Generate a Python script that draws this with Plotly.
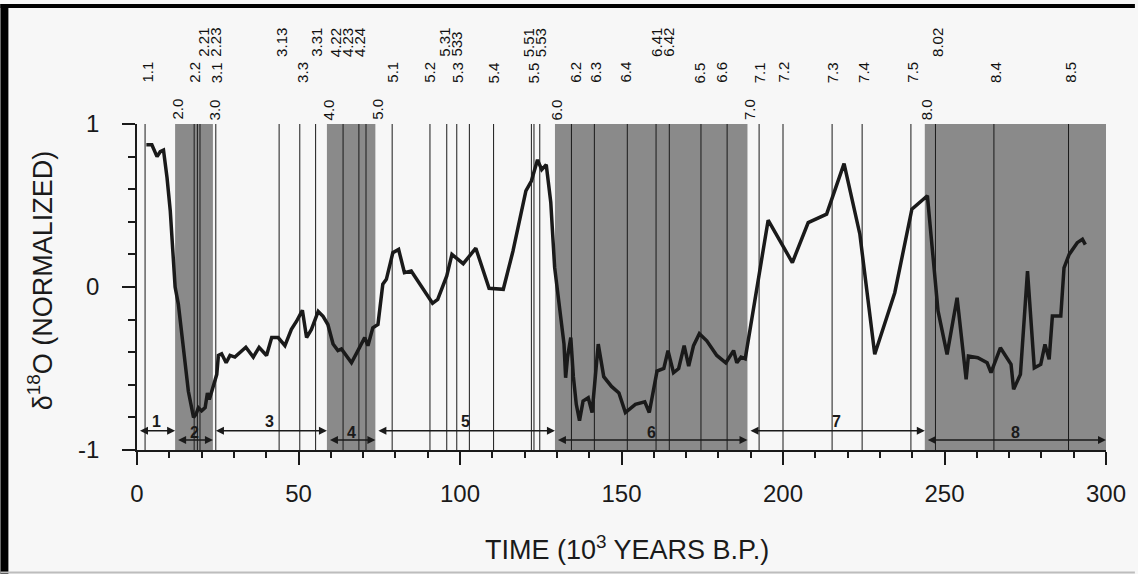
import plotly.graph_objects as go

# ---------------- data ----------------
time_ka = [2.9, 4.6, 6.2, 7.2, 8.2, 9.3, 10.3, 11.3, 11.8, 12.8, 14.4, 15.9, 17.5, 18.3, 19.0,
           20.0, 21.1, 21.8, 22.4, 23.6, 24.7, 25.2, 26.2, 27.6, 28.8, 30.3, 31.9, 33.7, 36.0,
           37.8, 40.1, 41.7, 43.7, 45.8, 47.8, 49.4, 51.2, 52.5, 54.0, 56.1, 57.6, 59.1, 60.7,
           62.2, 63.3, 64.3, 66.4, 68.4, 70.5, 71.5, 73.0, 74.6, 76.1, 77.2, 79.2, 81.0, 82.8,
           84.9, 91.5, 93.1, 95.9, 97.5, 101.0, 104.9, 109.0, 113.4, 116.4, 120.4, 122.1, 124.0,
           125.3, 126.7, 128.1, 129.3, 131.2, 132.2, 132.7, 133.3, 134.3, 135.1, 136.0, 137.0,
           138.1, 139.7, 140.9, 142.8, 144.5, 146.9, 149.2, 151.2, 154.3, 157.2, 158.6, 161.0,
           163.1, 164.4, 166.1, 167.7, 169.4, 170.8, 172.3, 174.1, 176.4, 179.5, 182.3, 184.7,
           185.7, 187.0, 188.3, 195.4, 202.9, 207.8, 213.5, 218.9, 223.8, 228.4, 234.6, 237.1,
           239.9, 244.7, 246.9, 248.0, 250.8, 253.9, 256.7, 257.4, 260.3, 263.2, 264.4, 267.3,
           270.6, 271.4, 273.5, 275.7, 277.8, 279.8, 281.1, 282.4, 283.4, 286.0, 287.0, 288.6,
           291.1, 292.7, 293.6]
d18o = [0.872, 0.872, 0.80, 0.83, 0.84, 0.67, 0.467, 0.18, 0.0, -0.105, -0.39, -0.64, -0.80,
        -0.78, -0.74, -0.76, -0.74, -0.65, -0.69, -0.60, -0.536, -0.42, -0.41, -0.465, -0.42,
        -0.43, -0.40, -0.37, -0.43, -0.37, -0.42, -0.31, -0.31, -0.36, -0.26, -0.21, -0.143,
        -0.31, -0.26, -0.15, -0.18, -0.23, -0.35, -0.39, -0.38, -0.41, -0.465, -0.39, -0.31,
        -0.36, -0.25, -0.23, 0.017, 0.047, 0.21, 0.23, 0.088, 0.098, -0.10, -0.076, 0.068,
        0.20, 0.143, 0.238, -0.008, -0.014, 0.22, 0.59, 0.65, 0.78, 0.72, 0.75, 0.52, 0.12,
        -0.17, -0.35, -0.557, -0.43, -0.31, -0.55, -0.72, -0.82, -0.70, -0.68, -0.77, -0.35,
        -0.55, -0.61, -0.65, -0.77, -0.72, -0.705, -0.77, -0.516, -0.50, -0.39, -0.526, -0.50,
        -0.36, -0.485, -0.36, -0.287, -0.33, -0.42, -0.465, -0.39, -0.465, -0.43, -0.44, 0.41,
        0.15, 0.395, 0.447, 0.757, 0.324, -0.413, -0.035, 0.20, 0.477, 0.56, 0.098, -0.147,
        -0.413, -0.066, -0.567, -0.424, -0.434, -0.465, -0.526, -0.373, -0.475, -0.628, -0.536,
        0.098, -0.496, -0.475, -0.352, -0.444, -0.178, -0.178, 0.118, 0.20, 0.272, 0.293, 0.26]

stage_bounds = [0, 11.8, 23.5, 58.8, 73.8, 129.4, 189.0, 243.9, 300]
stage_names = ["1", "2", "3", "4", "5", "6", "7", "8"]
boundary_labels = ["2.0", "3.0", "4.0", "5.0", "6.0", "7.0", "8.0"]

event_ages = [2.5, 17.7, 18.7, 19.5, 24.4, 44.0, 50.4, 55.3, 63.8, 68.7, 70.9, 79.0, 90.7,
              95.9, 99.0, 102.9, 110.4, 122.1, 122.9, 124.7, 134.5, 141.6, 151.8, 160.7,
              164.8, 174.6, 182.7, 192.6, 200.0, 215.2, 224.5, 239.6, 247.2, 265.3, 288.4]

row2_names = ["1.1", "2.2", "3.1", "3.3", "5.1", "5.2", "5.3", "5.4", "5.5", "6.2", "6.3",
              "6.4", "6.5", "6.6", "7.1", "7.2", "7.3", "7.4", "7.5", "8.4", "8.5"]
row2_ages = [3.1, 17.7, 24.7, 51.2, 79.0, 90.5, 99.2, 110.5, 122.9, 135.7, 141.9, 151.1,
             174.3, 180.9, 192.8, 200.0, 215.4, 224.9, 240.0, 265.8, 288.9]

row3_names = ["2.21", "2.23", "3.13", "3.31", "4.22", "4.23", "4.24", "5.31", "533", "5.51",
              "5.53", "6.41", "6.42", "8.02"]
row3_ages = [20.5, 24.2, 44.7, 55.5, 61.5, 65.2, 68.9, 95.1, 98.8, 121.3, 125.0, 160.8,
             164.5, 247.8]

y_tickvals = [-1, 0, 1]
y_ticktext = ["-1", "0", "1"]

# ---------------- figure ----------------
W, H = 1138, 574
ML, MR, MT, MB = 137, 29, 124, 124
PW, PH = W - ML - MR, H - MT - MB
INK = "#1a1a1a"
SHADE = "rgb(138,138,138)"
FONT = "Liberation Sans, Arial, sans-serif"


def px_x(p):
    return (p - ML) / PW


def px_y(p):
    return (H - MB - p) / PH


fig = go.Figure()

shapes = []
# shaded even stages
for i in range(1, len(stage_bounds) - 1, 2):
    shapes.append(dict(type="rect", xref="x", yref="y", x0=stage_bounds[i], x1=stage_bounds[i + 1],
                       y0=-1, y1=1, fillcolor=SHADE, line=dict(width=0), layer="below"))
# event lines
for a in event_ages:
    shapes.append(dict(type="line", xref="x", yref="y", x0=a, x1=a, y0=-1, y1=1,
                       line=dict(color=INK, width=1), layer="below"))
# page border decorations
shapes.append(dict(type="rect", xref="paper", yref="paper", x0=px_x(0), x1=px_x(8),
                   y0=px_y(H), y1=px_y(4), fillcolor="black", line=dict(width=0)))
shapes.append(dict(type="rect", xref="paper", yref="paper", x0=px_x(0), x1=px_x(W),
                   y0=px_y(8), y1=px_y(4), fillcolor="black", line=dict(width=0)))
shapes.append(dict(type="line", xref="paper", yref="paper", x0=px_x(0), x1=px_x(W),
                   y0=px_y(572.5), y1=px_y(572.5), line=dict(color="#bdbdbd", width=2)))

fig.add_trace(go.Scatter(x=time_ka, y=d18o, mode="lines",
                         line=dict(color=INK, width=3.5), hoverinfo="skip", showlegend=False))

ann = []
lab_font = dict(family=FONT, size=15, color="#111111")
for name, a in zip(boundary_labels, stage_bounds[1:8]):
    ann.append(dict(x=a, y=1, xref="x", yref="y", text=name, textangle=-90, showarrow=False,
                    xanchor="center", yanchor="bottom", xshift=2, yshift=2, font=lab_font))
for name, a in zip(row2_names, row2_ages):
    ann.append(dict(x=a, y=1, xref="x", yref="y", text=name, textangle=-90, showarrow=False,
                    xanchor="center", yanchor="bottom", yshift=39, font=lab_font))
for name, a in zip(row3_names, row3_ages):
    ann.append(dict(x=a, y=1, xref="x", yref="y", text=name, textangle=-90, showarrow=False,
                    xanchor="center", yanchor="bottom", yshift=65, font=lab_font))

# stage arrows and numbers
for i, name in enumerate(stage_names):
    x0, x1 = stage_bounds[i], stage_bounds[i + 1]
    odd = (i % 2 == 0)
    ya = -0.882 if odd else -0.939
    yt = -0.828 if odd else -0.89
    ann.append(dict(x=x1, y=ya, ax=x0, ay=ya, xref="x", yref="y", axref="x", ayref="y",
                    text=" ", showarrow=True, arrowhead=2, arrowside="end+start", arrowsize=1,
                    arrowwidth=1.6, arrowcolor=INK, standoff=0, startstandoff=0))
    ann.append(dict(x=(x0 + x1) / 2, y=yt, xref="x", yref="y", text="<b>" + name + "</b>",
                    showarrow=False, font=dict(family=FONT, size=16, color=INK)))

# axis titles
ann.append(dict(x=px_x(40), y=px_y(280), xref="paper", yref="paper",
                xanchor="center", yanchor="middle",
                text="δ<sup>18</sup>O (NORMALIZED)", textangle=-90, showarrow=False,
                font=dict(family=FONT, size=27, color=INK)))
ann.append(dict(x=px_x(629), y=px_y(548), xref="paper", yref="paper",
                xanchor="center", yanchor="middle",
                text="TIME (10<sup>3</sup> YEARS B.P.)", showarrow=False,
                font=dict(family=FONT, size=27, color=INK)))

fig.update_layout(
    width=W, height=H,
    margin=dict(l=ML, r=MR, t=MT, b=MB, pad=0),
    paper_bgcolor="#f7f7f7", plot_bgcolor="#f7f7f7",
    shapes=shapes, annotations=ann, showlegend=False,
    font=dict(family=FONT, color=INK),
)
fig.update_xaxes(range=[0, 300], dtick=50, tick0=0, showgrid=False, zeroline=False,
                 showline=True, linecolor=INK, linewidth=1.5,
                 ticks="outside", ticklen=13, tickwidth=1.5, tickcolor=INK,
                 minor=dict(dtick=10, tick0=0, ticks="outside", ticklen=6, tickwidth=1.5,
                            tickcolor=INK, showgrid=False),
                 tickfont=dict(family=FONT, size=24, color=INK), ticklabelstandoff=8)
fig.update_yaxes(range=[-1, 1], tickmode="array", tickvals=y_tickvals, ticktext=y_ticktext,
                 showgrid=False, zeroline=False,
                 showline=True, linecolor=INK, linewidth=1.5,
                 ticks="outside", ticklen=13, tickwidth=1.5, tickcolor=INK,
                 minor=dict(dtick=0.2, tick0=0, ticks="outside", ticklen=7, tickwidth=1.5,
                            tickcolor=INK, showgrid=False),
                 tickfont=dict(family=FONT, size=24, color=INK), ticklabelstandoff=18)

fig.write_html("out.html")
